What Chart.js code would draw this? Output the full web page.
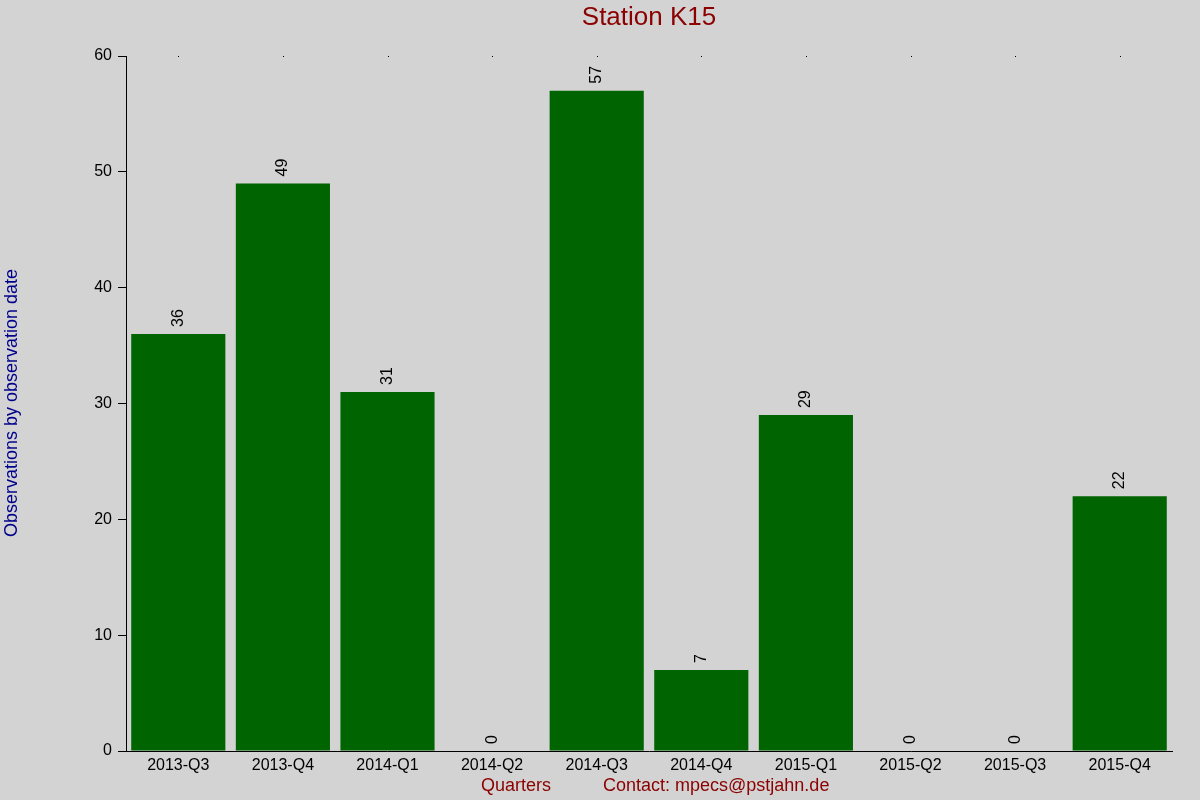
<!DOCTYPE html>
<html>
<head>
<meta charset="utf-8">
<script src="https://cdn.jsdelivr.net/npm/chart.js@4/dist/chart.umd.min.js"></script>
<style>
  html, body { margin: 0; padding: 0; background: #d3d3d3; }
  #wrap { width: 1200px; height: 800px; }
</style>
</head>
<body>
<div id="wrap"><canvas id="chart" width="1200" height="800"></canvas></div>
<script>
const quarters = ["2013-Q3", "2013-Q4", "2014-Q1", "2014-Q2", "2014-Q3", "2014-Q4", "2015-Q1", "2015-Q2", "2015-Q3", "2015-Q4"];
const observations = [36, 49, 31, 0, 57, 7, 29, 0, 0, 22];
const yTicks = [0, 10, 20, 30, 40, 50, 60];

const chartTitle = "Station K15";
const xTitle = "Quarters";
const contactText = "Contact: mpecs@pstjahn.de";
const yTitle = "Observations by observation date";

const FONT = "'Liberation Sans', Arial, sans-serif";

// background, titles, value labels and the little dots on top
const decorPlugin = {
  id: "decor",
  beforeDraw(chart) {
    const ctx = chart.ctx;
    ctx.save();
    ctx.fillStyle = "#d3d3d3";
    ctx.fillRect(0, 0, chart.width, chart.height);
    ctx.restore();
  },
  afterDraw(chart) {
    const ctx = chart.ctx;
    const area = chart.chartArea;
    const xScale = chart.scales.x;
    ctx.save();

    // title
    ctx.fillStyle = "#8b0000";
    ctx.font = "26px " + FONT;
    ctx.textAlign = "center";
    ctx.textBaseline = "middle";
    ctx.fillText(chartTitle, (area.left + area.right) / 2, 18);

    // x axis titles
    ctx.font = "18px " + FONT;
    ctx.fillText(xTitle, 516, 786);
    ctx.textAlign = "left";
    ctx.fillText(contactText, 603, 786);
    ctx.textAlign = "center";

    // y axis title
    ctx.save();
    ctx.fillStyle = "#00008b";
    ctx.font = "18px " + FONT;
    ctx.translate(12, 403);
    ctx.rotate(-Math.PI / 2);
    ctx.fillText(yTitle, 0, 0);
    ctx.restore();

    // dots at the top of each category
    ctx.fillStyle = "#000";
    quarters.forEach((q, i) => {
      const x = Math.round(xScale.getPixelForValue(i));
      ctx.fillRect(x, area.top, 1, 1);
    });

    // rotated value labels
    const meta = chart.getDatasetMeta(0);
    ctx.font = "16px " + FONT;
    ctx.fillStyle = "#000";
    ctx.textAlign = "left";
    ctx.textBaseline = "middle";
    meta.data.forEach((bar, i) => {
      ctx.save();
      ctx.translate(bar.x, bar.y - 7);
      ctx.rotate(-Math.PI / 2);
      ctx.fillText(String(observations[i]), 0, 0);
      ctx.restore();
    });

    ctx.restore();
  }
};

new Chart(document.getElementById("chart"), {
  type: "bar",
  data: {
    labels: quarters,
    datasets: [
      {
        data: observations,
        backgroundColor: "#006400",
        borderWidth: 0,
        barPercentage: 0.9,
        categoryPercentage: 1.0,
      },
    ],
  },
  options: {
    responsive: false,
    animation: false,
    devicePixelRatio: 1,
    layout: { padding: { left: 0, right: 28, top: 56, bottom: 0 } },
    plugins: {
      legend: { display: false },
      title: { display: false },
      tooltip: { enabled: false },
    },
    scales: {
      x: {
        afterFit: (scale) => { scale.height = 49; },
        grid: { display: false, drawTicks: false, tickLength: 0 },
        border: { display: true, color: "#000", width: 1 },
        ticks: {
          color: "#000",
          font: { size: 16, family: FONT },
          padding: 5,
          maxRotation: 0,
          autoSkip: false,
        },
      },
      y: {
        min: 0,
        max: 60,
        afterFit: (scale) => { scale.width = 126; },
        afterBuildTicks: (scale) => { scale.ticks = yTicks.map((v) => ({ value: v })); },
        grid: {
          display: true,
          drawOnChartArea: false,
          drawTicks: true,
          tickLength: 8,
          color: "#000",
        },
        border: { display: true, color: "#000", width: 1 },
        ticks: {
          color: "#000",
          font: { size: 16, family: FONT },
          padding: 6,
        },
      },
    },
  },
  plugins: [decorPlugin],
});
</script>
</body>
</html>
